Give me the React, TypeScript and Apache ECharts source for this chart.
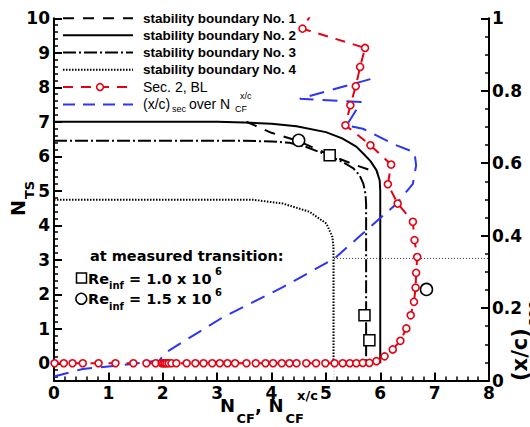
import React, { useEffect, useRef } from "react";
import * as echarts from "echarts";

// ---------- data ----------
// stability boundaries (x = N_CF, y = N_TS)
const b1X = [3.54, 4.0, 4.5, 5.07, 5.5, 5.96];
const b1Y = [7.0, 6.68, 6.44, 6.04, 5.77, 5.52];
const b2X = [0, 3.0, 3.5, 4.0, 4.46, 5.0, 5.3, 5.56, 5.7, 5.82, 5.93, 5.99, 6.0, 6.0];
const b2Y = [7.0, 7.0, 6.98, 6.94, 6.87, 6.7, 6.52, 6.28, 6.06, 5.86, 5.6, 5.3, 5.0, 0];
const b3X = [0, 3.5, 4.0, 4.33, 4.64, 5.0, 5.3, 5.5, 5.62, 5.69, 5.73, 5.74, 5.74];
const b3Y = [6.45, 6.45, 6.43, 6.39, 6.27, 6.05, 5.84, 5.66, 5.45, 5.2, 4.9, 4.6, 0];
const b4X = [0, 3.66, 4.21, 4.7, 5.01, 5.12, 5.14, 5.14];
const b4Y = [4.74, 4.74, 4.63, 4.39, 4.05, 3.66, 3.37, 0];

// Sec. 2, BL
const redX = [
  0.01, 0.18, 0.34, 0.53, 0.82, 1.13, 1.46, 1.7, 1.87, 1.98,
  2.01, 2.04, 2.07, 2.11, 2.16, 2.25, 2.44, 2.6, 2.75, 2.91,
  3.05, 3.19, 3.33, 3.54, 3.71, 3.89, 4.03, 4.19, 4.33, 4.46,
  4.64, 4.82, 4.99, 5.16, 5.31, 5.44, 5.56, 5.68, 5.8, 5.93,
  6.08, 6.23, 6.37, 6.48, 6.56, 6.62, 6.65, 6.66, 6.68, 6.63,
  6.6, 6.32, 6.14, 6.2, 5.82, 5.36, 5.45, 5.55, 5.63, 5.72,
  4.57, 4.8,
];
const redY = [
  0, 0, 0, 0, 0, 0, 0, 0, 0, 0,
  0, 0, 0, 0, 0, 0, 0, 0, 0, 0,
  0, 0, 0, 0, 0, 0, 0, 0, 0, 0,
  0, 0, 0, 0, 0, 0, 0, 0.01, 0.01, 0.06,
  0.2, 0.4, 0.65, 1.01, 1.39, 1.78, 2.19, 2.62, 3.08, 3.57,
  4.1, 4.63, 5.19, 5.76, 6.32, 6.9, 7.48, 8.03, 8.59, 9.14,
  9.7, 10.3,
];

// (x/c)_sec over N_CF^{x/c}  (right axis)
const blueX = [0, 0.53, 1.15, 1.94, 2.03, 3.1, 4.2, 5.16, 5.62, 6.3, 6.6, 6.66, 6.63, 6.3, 5.68, 5.38, 5.65, 4.52, 5.96];
const blueR = [0.011, 0.032, 0.041, 0.055, 0.075, 0.174, 0.257, 0.337, 0.398, 0.488, 0.543, 0.594, 0.63, 0.649, 0.695, 0.704, 0.769, 0.778, 0.838];

// measured transition
const squareX = [5.07, 5.71, 5.8];
const squareY = [6.03, 1.39, 0.67];
const circleX = [4.5, 6.85];
const circleY = [6.46, 2.14];

// guide at N_CF^{x/c} crossing
const guideX = 5.15;
const guideR = 0.337;

// ticks
const nTsMajor = [0, 1, 2, 3, 4, 5, 6, 7, 8, 9, 10];
const nTsMinor: number[] = [];
for (let i = -2; i <= 50; i++) {
  if (i % 5 !== 0) nTsMinor.push(Math.round(i * 0.2 * 10) / 10);
}

const zip = (a: number[], b: number[]) => a.map((v, i) => [v, b[i]]);

const RED = "#e60012";
const BLUE = "#2a35f5";
const FD = '"DejaVu Sans", sans-serif';
const FL = '"Liberation Sans", Arial, sans-serif';

const txt = (
  text: string,
  x: number,
  y: number,
  size: number,
  o: { rot?: number; weight?: string; family?: string; align?: string; va?: string } = {}
) => ({
  type: "text",
  x,
  y,
  rotation: o.rot || 0,
  silent: true,
  style: {
    text,
    fill: "#000",
    font: `${o.weight || "bold"} ${size}px ${o.family || FD}`,
    align: o.align || "left",
    verticalAlign: o.va || "middle",
    textAlign: o.align || "left",
    textVerticalAlign: o.va || "middle",
  },
});

const legRows = [18.3, 35.2, 52.5, 69.8, 87.1, 104.4];
const legLine = (y: number, color: string, dash: number[] | null, w = 2) => ({
  type: "line",
  silent: true,
  shape: { x1: 63, y1: y, x2: 133, y2: y },
  style: { stroke: color, lineWidth: w, lineDash: dash || undefined },
});

const graphic: any[] = [
  legLine(legRows[0], "#000", [11, 9]),
  legLine(legRows[1], "#000", null),
  legLine(legRows[2], "#000", [13, 3, 2, 3]),
  legLine(legRows[3], "#000", [1.5, 1.5]),
  legLine(legRows[4], RED, [10, 8]),
  {
    type: "circle",
    silent: true,
    shape: { cx: 100, cy: legRows[4], r: 3.4 },
    style: { fill: "#fff", stroke: RED, lineWidth: 1.6 },
  },
  legLine(legRows[5], BLUE, [12, 8]),
  txt("stability boundary No. 1", 143, legRows[0], 13.5, { family: FL }),
  txt("stability boundary No. 2", 143, legRows[1], 13.5, { family: FL }),
  txt("stability boundary No. 3", 143, legRows[2], 13.5, { family: FL }),
  txt("stability boundary No. 4", 143, legRows[3], 13.5, { family: FL }),
  txt("Sec. 2, BL", 143, legRows[4], 14, { family: FL, weight: "normal" }),
  txt("(x/c)", 143, legRows[5], 14, { family: FL, weight: "normal" }),
  txt("sec", 172, legRows[5] + 5, 9, { family: FL, weight: "normal" }),
  txt("over N", 189, legRows[5], 14, { family: FL, weight: "normal" }),
  txt("CF", 235, legRows[5] + 5, 9, { family: FL, weight: "normal" }),
  txt("x/c", 240, legRows[5] - 8, 9, { family: FL, weight: "normal" }),

  // annotation
  txt("at measured transition:", 90, 256, 14.5),
  {
    type: "rect",
    silent: true,
    shape: { x: 76.5, y: 273, width: 10, height: 10 },
    style: { fill: "none", stroke: "#000", lineWidth: 1.5 },
  },
  txt("Re", 88, 278.5, 14.5),
  txt("inf", 109, 285.5, 10),
  txt("= 1.0 x 10", 129, 278.5, 14.5),
  txt("6", 215, 271.5, 10),
  {
    type: "circle",
    silent: true,
    shape: { cx: 81.3, cy: 298.8, r: 5.4 },
    style: { fill: "none", stroke: "#000", lineWidth: 1.5 },
  },
  txt("Re", 88, 299, 14.5),
  txt("inf", 109, 306, 10),
  txt("= 1.5 x 10", 129, 299, 14.5),
  txt("6", 215, 292, 10),

  // x axis name
  txt("N", 220, 405.5, 18),
  txt("CF", 236.5, 418.5, 13),
  txt(",", 255, 405.5, 18),
  txt("N", 268.5, 405.5, 18),
  txt("CF", 285.5, 418.5, 13),
  txt("x/c", 297, 395.5, 13),

  // left axis name
  txt("N", 18, 216, 19, { rot: Math.PI / 2 }),
  txt("TS", 29, 199, 13, { rot: Math.PI / 2 }),

  // right axis name
  txt("(x/c)", 520, 381, 21, { rot: Math.PI / 2 }),
  txt("sec", 531, 326, 13, { rot: Math.PI / 2 }),
];

const blackLine = (name: string, xs: number[], ys: number[], type: any) => ({
  type: "line",
  name,
  xAxisIndex: 0,
  yAxisIndex: 0,
  data: zip(xs, ys),
  symbol: "none",
  z: 2,
  lineStyle: { color: "#000", width: 2, type },
});

const tickLabel = { color: "#000", fontFamily: FD, fontWeight: "bold", fontSize: 17 };

const option: any = {
  animation: false,
  backgroundColor: "#fff",
  grid: { left: 54, right: 41, top: 18.3, bottom: 46.5, containLabel: false },
  xAxis: {
    type: "value",
    min: 0,
    max: 8,
    interval: 1,
    axisLine: { show: true, onZero: false, lineStyle: { color: "#000", width: 2 } },
    axisTick: { show: true, inside: true, length: 8, lineStyle: { color: "#000", width: 2 } },
    minorTick: { show: true, splitNumber: 5, length: 4, lineStyle: { color: "#000", width: 1.5 } },
    axisLabel: { ...tickLabel, margin: 4 },
    splitLine: { show: false },
    minorSplitLine: { show: false },
  },
  yAxis: [
    {
      type: "value",
      position: "left",
      min: -0.5,
      max: 10,
      splitNumber: 10,
      axisLine: { show: true, onZero: false, lineStyle: { color: "#000", width: 2 } },
      axisTick: {
        show: true,
        inside: true,
        length: 8,
        customValues: nTsMajor,
        lineStyle: { color: "#000", width: 2 },
      },
      axisLabel: {
        ...tickLabel,
        margin: 4,
        customValues: nTsMajor,
        formatter: (v: number) => (v < 0 ? "" : String(v)),
      },
      splitLine: { show: false },
    },
    {
      type: "value",
      position: "left",
      min: -0.5,
      max: 10,
      splitNumber: 10,
      axisLine: { show: false, onZero: false },
      axisTick: {
        show: true,
        inside: true,
        length: 4,
        customValues: nTsMinor,
        lineStyle: { color: "#000", width: 1.5 },
      },
      axisLabel: { show: false },
      splitLine: { show: false },
    },
    {
      type: "value",
      position: "right",
      min: 0,
      max: 1,
      interval: 0.2,
      axisLine: { show: true, onZero: false, lineStyle: { color: "#000", width: 2 } },
      axisTick: { show: true, inside: true, length: 8, lineStyle: { color: "#000", width: 2 } },
      minorTick: { show: true, splitNumber: 4, length: 4, lineStyle: { color: "#000", width: 1.5 } },
      axisLabel: { ...tickLabel, margin: 3 },
      splitLine: { show: false },
      minorSplitLine: { show: false },
    },
  ],
  graphic,
  series: [
    blackLine("stability boundary No. 4", b4X, b4Y, [1.5, 1.5]),
    blackLine("stability boundary No. 3", b3X, b3Y, [13, 3, 2, 3]),
    blackLine("stability boundary No. 1", b1X, b1Y, [11, 9]),
    blackLine("stability boundary No. 2", b2X, b2Y, "solid"),
    {
      type: "line",
      name: "guide-h",
      xAxisIndex: 0,
      yAxisIndex: 2,
      data: [
        [guideX, guideR],
        [8, guideR],
      ],
      symbol: "none",
      z: 1,
      lineStyle: { color: "#000", width: 0.8, type: [1, 2] },
    },
    {
      type: "line",
      name: "guide-v",
      xAxisIndex: 0,
      yAxisIndex: 2,
      data: [
        [guideX, 0],
        [guideX, guideR],
      ],
      symbol: "none",
      z: 1,
      lineStyle: { color: "#aaa", width: 1, type: [1, 2] },
    },
    {
      type: "line",
      name: "(x/c)sec over NCF x/c",
      xAxisIndex: 0,
      yAxisIndex: 2,
      data: zip(blueX, blueR),
      symbol: "none",
      z: 3,
      lineStyle: { color: BLUE, width: 2, type: [15, 9] },
    },
    {
      type: "line",
      name: "Sec. 2, BL",
      xAxisIndex: 0,
      yAxisIndex: 0,
      data: zip(redX, redY),
      symbol: "circle",
      symbolSize: 7,
      showSymbol: true,
      z: 4,
      lineStyle: { color: RED, width: 2, type: [10, 8] },
      itemStyle: { color: "#fff", borderColor: RED, borderWidth: 1.6 },
    },
    {
      type: "scatter",
      name: "Re 1.0e6",
      xAxisIndex: 0,
      yAxisIndex: 0,
      data: zip(squareX, squareY),
      symbol: "rect",
      symbolSize: 11,
      z: 5,
      itemStyle: { color: "#ffffff", opacity: 1, borderColor: "#000", borderWidth: 1.5 },
    },
    {
      type: "scatter",
      name: "Re 1.5e6",
      xAxisIndex: 0,
      yAxisIndex: 0,
      data: zip(circleX, circleY),
      symbol: "circle",
      symbolSize: 12,
      z: 5,
      itemStyle: { color: "#ffffff", opacity: 1, borderColor: "#000", borderWidth: 1.5 },
    },
  ],
};

export default function App() {
  const ref = useRef<HTMLDivElement>(null);
  useEffect(() => {
    if (!ref.current) return;
    const chart = echarts.init(ref.current, null, { renderer: "svg" });
    chart.setOption(option);
    return () => chart.dispose();
  }, []);
  return (
    <div
      ref={ref}
      style={{ position: "fixed", left: 0, top: 0, width: 530, height: 427, background: "#fff" }}
    />
  );
}
